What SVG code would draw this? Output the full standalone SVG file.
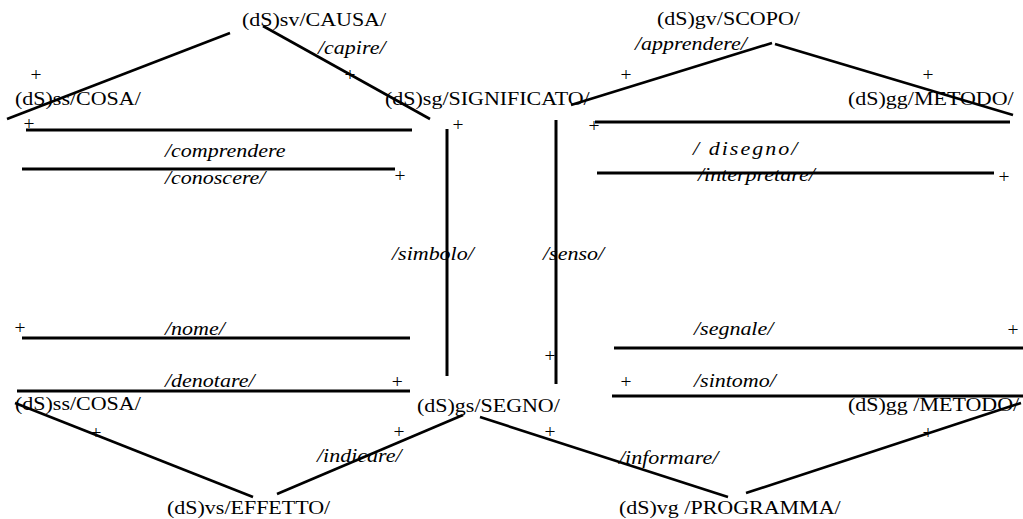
<svg xmlns="http://www.w3.org/2000/svg" width="1023" height="519" viewBox="0 0 1023 519">
<style>
.n{font-family:"Liberation Serif","Times New Roman",Times,serif;font-size:19.5px;fill:#000}
.e{font-family:"Liberation Serif","Times New Roman",Times,serif;font-size:19.5px;font-style:italic;fill:#000}
.p{font-family:"Liberation Serif","Times New Roman",Times,serif;font-size:19.5px;fill:#000;text-anchor:middle}
.d{stroke:#000;stroke-width:2.6;fill:none}
.h{stroke:#000;stroke-width:3;fill:none}
</style>
<rect width="1023" height="519" fill="#fff"/>
<g id="connectors">
<line class="d" x1="230" y1="33" x2="7" y2="119"/>
<line class="d" x1="263" y1="26" x2="430" y2="119"/>
<line class="d" x1="571" y1="105" x2="772" y2="43"/>
<line class="d" x1="775" y1="44" x2="1013" y2="115"/>
<line class="h" x1="26" y1="130" x2="412" y2="130"/>
<line class="h" x1="22" y1="169" x2="395" y2="169"/>
<line class="h" x1="447" y1="129" x2="447" y2="376"/>
<line class="h" x1="556" y1="120" x2="556" y2="384"/>
<line class="h" x1="595" y1="122" x2="1010" y2="122"/>
<line class="h" x1="597" y1="173" x2="994" y2="173"/>
<line class="h" x1="22" y1="338" x2="410" y2="338"/>
<line class="h" x1="17" y1="391" x2="410" y2="391"/>
<line class="h" x1="614" y1="348" x2="1023" y2="348"/>
<line class="h" x1="612" y1="396" x2="1023" y2="396"/>
<line class="d" x1="15" y1="403" x2="253" y2="497"/>
<line class="d" x1="277" y1="494" x2="463" y2="415"/>
<line class="d" x1="480" y1="417" x2="728" y2="497"/>
<line class="d" x1="746" y1="493" x2="1021" y2="403"/>
</g>
<g id="node-causa"><text class="n" transform="translate(242,26) scale(1.128,1)">(dS)sv/CAUSA/</text></g>
<g id="node-scopo"><text class="n" transform="translate(657,25) scale(1.128,1)">(dS)gv/SCOPO/</text></g>
<g id="node-cosa-top"><text class="n" transform="translate(15,105) scale(1.128,1)">(dS)ss/COSA/</text></g>
<g id="node-significato"><text class="n" transform="translate(385,105) scale(1.128,1)">(dS)sg/SIGNIFICATO/</text></g>
<g id="node-metodo-top"><text class="n" transform="translate(848,105) scale(1.128,1)">(dS)gg/METODO/</text></g>
<g id="node-cosa-bottom"><text class="n" transform="translate(15,410) scale(1.128,1)">(dS)ss/COSA/</text></g>
<g id="node-segno"><text class="n" transform="translate(417,412) scale(1.128,1)">(dS)gs/SEGNO/</text></g>
<g id="node-metodo-bottom"><text class="n" transform="translate(848,411) scale(1.128,1)">(dS)gg /METODO/</text></g>
<g id="node-effetto"><text class="n" transform="translate(167,514) scale(1.128,1)">(dS)vs/EFFETTO/</text></g>
<g id="node-programma"><text class="n" transform="translate(619,514) scale(1.128,1)">(dS)vg /PROGRAMMA/</text></g>
<g id="edge-labels">
<text class="e" transform="translate(318,54) scale(1.128,1)">/capire/</text>
<text class="e" transform="translate(635,50) scale(1.128,1)">/apprendere/</text>
<text class="e" transform="translate(165,157) scale(1.128,1)">/comprendere</text>
<text class="e" transform="translate(165,184) scale(1.128,1)">/conoscere/</text>
<text class="e" transform="translate(693,155) scale(1.128,1)" letter-spacing="1.8">/ disegno/</text>
<text class="e" transform="translate(698,181) scale(1.128,1)">/interpretare/</text>
<text class="e" transform="translate(392,260) scale(1.128,1)">/simbolo/</text>
<text class="e" transform="translate(543,260) scale(1.128,1)">/senso/</text>
<text class="e" transform="translate(165,335) scale(1.128,1)">/nome/</text>
<text class="e" transform="translate(165,387) scale(1.128,1)">/denotare/</text>
<text class="e" transform="translate(694,335) scale(1.128,1)">/segnale/</text>
<text class="e" transform="translate(694,387) scale(1.128,1)">/sintomo/</text>
<text class="e" transform="translate(317,462) scale(1.128,1)">/indicare/</text>
<text class="e" transform="translate(619,464) scale(1.128,1)">/informare/</text>
</g>
<g id="plus-marks">
<text class="p" x="36" y="81">+</text>
<text class="p" x="350" y="81">+</text>
<text class="p" x="626" y="81">+</text>
<text class="p" x="928" y="81">+</text>
<text class="p" x="29" y="130">+</text>
<text class="p" x="400" y="182">+</text>
<text class="p" x="458" y="131">+</text>
<text class="p" x="594" y="132">+</text>
<text class="p" x="1004" y="183">+</text>
<text class="p" x="20" y="334">+</text>
<text class="p" x="397" y="388" font-style="italic">+</text>
<text class="p" x="1013" y="336">+</text>
<text class="p" x="550" y="362">+</text>
<text class="p" x="626" y="388">+</text>
<text class="p" x="96" y="439">+</text>
<text class="p" x="399" y="438">+</text>
<text class="p" x="550" y="438">+</text>
<text class="p" x="928" y="439">+</text>
</g>
</svg>
